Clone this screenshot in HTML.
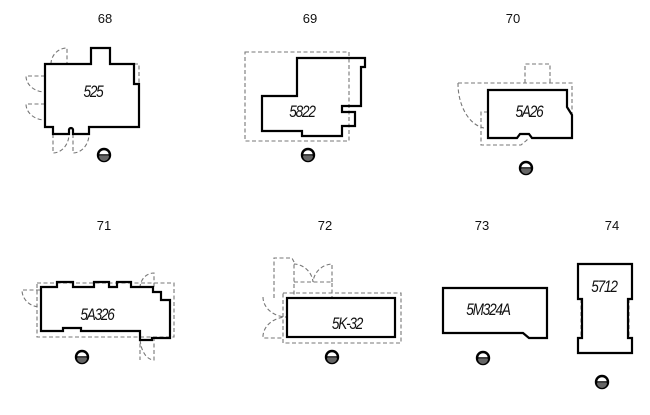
<!DOCTYPE html>
<html><head><meta charset="utf-8"><style>
html,body{margin:0;padding:0;background:#fff;}
svg{display:block;}
.n{font-family:"Liberation Sans",sans-serif;font-size:13px;fill:#111;text-anchor:middle;}
.l{font-family:"Liberation Sans",sans-serif;font-size:17px;font-style:italic;fill:#111;text-anchor:middle;letter-spacing:-1.5px;}
.s{fill:none;stroke:#000;stroke-width:2.2;stroke-linejoin:miter;}
.d{fill:none;stroke:#777;stroke-width:1.1;stroke-dasharray:4,2.5;}
</style></head><body>
<svg width="650" height="415" viewBox="0 0 650 415" xmlns="http://www.w3.org/2000/svg">
<defs>
<g id="op">
<circle r="6" fill="#fff" stroke="#000" stroke-width="2.4"/>
<path d="M-5,1 A5,5 0 0 0 5,1 Z" fill="#666"/>
<line x1="-6" y1="0" x2="6" y2="0" stroke="#000" stroke-width="1.5"/>
</g>
</defs>
<text class="n" x="105" y="23">68</text>
<text class="n" x="310" y="23">69</text>
<text class="n" x="513" y="23">70</text>
<text class="n" x="104" y="230">71</text>
<text class="n" x="325" y="230">72</text>
<text class="n" x="482" y="230">73</text>
<text class="n" x="612" y="230">74</text>

<!-- 68 -->
<path class="d" d="M51,64 A16,16 0 0 1 67,48 L67,64"/>
<path class="d" d="M45,76 L26,76 A19,16 0 0 0 45,92"/>
<path class="d" d="M45,104 L26,104 A19,16 0 0 0 45,120"/>
<path class="d" d="M53,134 L53,153 A16,19 0 0 0 69,134"/>
<path class="d" d="M73,134 L73,153 A16,19 0 0 0 89,134"/>
<path class="d" d="M134,64 L139,64 L139,84"/>
<path class="s" d="M45,64 L91,64 L91,48 L110,48 L110,64 L134,64 L134,84 L139,84 L139,127 L89,127 L89,134 L73,134 L73,130 A2,2 0 0 0 69,130 L69,134 L53,134 L53,127 L45,127 Z"/>
<g transform="translate(93,97) scale(0.8,1)"><text class="l" x="0" y="0">525</text></g>
<use href="#op" x="104" y="155"/>

<!-- 69 -->
<rect class="d" x="245" y="52" width="104" height="89"/>
<path class="s" d="M297,58 L365,58 L365,67 L361,67 L361,106 L342,106 L342,112 L355,112 L355,126 L342,126 L342,136 L302,136 L302,131 L262,131 L262,96 L297,96 Z"/>
<g transform="translate(302,117) scale(0.8,1)"><text class="l" x="0" y="0">5822</text></g>
<use href="#op" x="308" y="155"/>

<!-- 70 -->
<path class="d" d="M525,83 L525,64 L550,64 L550,83"/>
<path class="d" d="M458,83 L572,83 L572,115"/>
<path class="d" d="M458,83 A30,45 0 0 0 484,128"/>
<path class="d" d="M488,112 L481,112 L481,145 L521,145 L527,140 L527,138"/>
<path class="s" d="M488,90 L567,90 L567,107 L572,115 L572,138 L532,138 L529,134 L520,134 L517,138 L488,138 Z"/>
<g transform="translate(529,117) scale(0.8,1)"><text class="l" x="0" y="0">5A26</text></g>
<use href="#op" x="526" y="168"/>

<!-- 71 -->
<rect class="d" x="37" y="283" width="137" height="54"/>
<path class="d" d="M40,290 L22,290 A18,17 0 0 0 40,307"/>
<path class="d" d="M140,288 A14,15 0 0 1 154,273 L154,288"/>
<path class="d" d="M140,337 L140,360 M154,337 L154,360 A14,23 0 0 1 140,337"/>
<path class="s" d="M41,287 L57,287 L57,282 L73,282 L73,287 L94,287 L94,282 L109,282 L109,287 L117,287 L117,282 L131,282 L131,287 L153,287 L153,292 L161,292 L161,300 L170,300 L170,338 L152,338 L152,340 L140,340 L140,331 L81,331 L81,328 L63,328 L63,331 L41,331 Z"/>
<g transform="translate(97,320) scale(0.8,1)"><text class="l" x="0" y="0">5A326</text></g>
<use href="#op" x="82" y="357"/>

<!-- 72 -->
<rect class="d" x="283" y="293" width="118" height="50"/>
<path class="d" d="M274,298 L274,258 L292,258 L294,262 L294,298"/>
<path class="d" d="M294,282 L332,282 L332,298 M332,282 L332,264 A20,20 0 0 0 313,282 A20,20 0 0 0 294,264"/>
<path class="d" d="M263,297 A24,20 0 0 0 287,317 A24,20 0 0 0 263,338 L283,338"/>
<rect class="s" x="287" y="298" width="108" height="39"/>
<g transform="translate(347,329) scale(0.8,1)"><text class="l" x="0" y="0">5K-32</text></g>
<use href="#op" x="332" y="357"/>

<!-- 73 -->
<path class="s" d="M443,288 L547,288 L547,338 L529,338 L523,333 L443,333 Z"/>
<g transform="translate(488,315) scale(0.8,1)"><text class="l" x="0" y="0">5M324A</text></g>
<use href="#op" x="483" y="358"/>

<!-- 74 -->
<path class="d" d="M581,299 L581,338 M629,299 L629,338"/>
<path class="s" d="M578,264 L632,264 L632,299 L628,299 L628,338 L632,338 L632,353 L578,353 L578,338 L582,338 L582,299 L578,299 Z"/>
<g transform="translate(604,292) scale(0.8,1)"><text class="l" x="0" y="0">5712</text></g>
<use href="#op" x="602" y="382"/>
</svg>
</body></html>
